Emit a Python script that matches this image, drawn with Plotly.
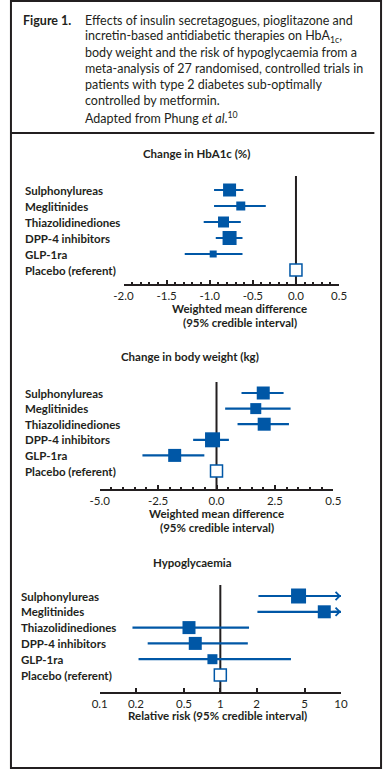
import math
import plotly.graph_objects as go

W, H = 390, 769
FONT = "Lato"
TXT = "#231f20"
BLUE = "#0057a6"

# ---------------- data ----------------
categories = ["Sulphonylureas", "Meglitinides", "Thiazolidinediones",
              "DPP-4 inhibitors", "GLP-1ra"]
referent_label = "Placebo (referent)"

# Panel 1: change in HbA1c (%)
hba1c_mean = [-0.77, -0.64, -0.84, -0.77, -0.96]
hba1c_low = [-0.95, -0.95, -1.07, -0.93, -1.29]
hba1c_high = [-0.61, -0.35, -0.64, -0.62, -0.62]
hba1c_size = [13, 9, 11, 14, 7]
hba1c_ticks = [-2.0, -1.5, -1.0, -0.5, 0.0, 0.5]
hba1c_ticktext = ["-2.0", "-1.5", "-1.0", "-0.5", "0.0", "0.5"]

# Panel 2: change in body weight (kg)
weight_mean = [2.0, 1.68, 2.04, -0.17, -1.79]
weight_low = [1.07, 0.37, 0.90, -1.00, -3.17]
weight_high = [2.87, 3.17, 3.10, 0.53, -0.52]
weight_size = [13, 11, 13, 15, 13]
weight_ticks = [-5.0, -2.5, 0.0, 2.5, 5.0]
weight_ticktext = ["-5.0", "-2.5", "0.0", "2.5", "0.5"]

# Panel 3: hypoglycaemia relative risk
hypo_mean = [4.45, 7.27, 0.55, 0.62, 0.86]
hypo_low = [2.07, 2.03, 0.187, 0.25, 0.21]
hypo_high = [10.0, 10.0, 1.73, 1.69, 3.85]
hypo_truncated = [True, True, False, False, False]
hypo_size = [15, 13, 13, 13, 10]
hypo_ticks = [0.1, 0.2, 0.5, 1, 2, 5, 10]
hypo_ticktext = ["0.1", "0.2", "0.5", "1", "2", "5", "10"]

referents = [0.0, 0.0, 1.0]

panel_titles = ["Change in HbA1c (%)", "Change in body weight (kg)", "Hypoglycaemia"]

header_lines = [
    "Effects of insulin secretagogues, pioglitazone and",
    "incretin-based antidiabetic therapies on HbA<sub>1c</sub>,",
    "body weight and the risk of hypoglycaemia from a",
    "meta-analysis of 27 randomised, controlled trials in",
    "patients with type 2 diabetes sub-optimally",
    "controlled by metformin.",
    "Adapted from Phung <i>et al</i>.<sup>10</sup>",
]

# ---------------- helpers ----------------
def px(x):
    return x / W

def py(y):
    return 1 - y / H

n = len(categories)
rows = [n + 1 - i for i in range(n)]  # 6..2
ref_row = 1

fig = go.Figure()

panels = [
    dict(mean=hba1c_mean, low=hba1c_low, high=hba1c_high, size=hba1c_size,
         xd=(119, 345), yd=(176, 284), yr=(0.125, 6.875), xr=[-2.0, 0.5],
         ticks=hba1c_ticks, ticktext=hba1c_ticktext, minor=0.1, log=False,
         labx=14, title_x=196, title_y=153,
         xtitle=["Weighted mean difference", "(95% credible interval)"],
         xtitle_x=241, xtitle_y=[308, 322]),
    dict(mean=weight_mean, low=weight_low, high=weight_high, size=weight_size,
         xd=(94, 339), yd=(382, 489), yr=(-0.154, 6.705), xr=[-5.0, 5.0],
         ticks=weight_ticks, ticktext=weight_ticktext, minor=0.5, log=False,
         labx=14, title_x=189, title_y=356,
         xtitle=["Weighted mean difference", "(95% credible interval)"],
         xtitle_x=217, xtitle_y=[513, 527]),
    dict(mean=hypo_mean, low=hypo_low, high=hypo_high, size=hypo_size,
         xd=(94, 347), yd=(585, 692), yr=(-0.076, 6.696), xr=[-1, 1],
         ticks=hypo_ticks, ticktext=hypo_ticktext, minor=None, log=True,
         labx=9, title_x=191, title_y=562,
         xtitle=["Relative risk (95% credible interval)"],
         xtitle_x=218, xtitle_y=[715]),
]

annotations = []
shapes = []
LABEL_FONT = dict(family=FONT, size=11.5, color=TXT, weight="bold")

for k, p in enumerate(panels):
    xa = "x" if k == 0 else f"x{k+1}"
    ya = "y" if k == 0 else f"y{k+1}"
    xkey = "xaxis" if k == 0 else f"xaxis{k+1}"
    ykey = "yaxis" if k == 0 else f"yaxis{k+1}"

    plus = [h - m for h, m in zip(p["high"], p["mean"])]
    minus = [m - l for m, l in zip(p["mean"], p["low"])]

    fig.add_trace(go.Scatter(
        x=p["mean"], y=rows, xaxis=xa, yaxis=ya, mode="markers",
        marker=dict(symbol="square", size=p["size"], color=BLUE, opacity=1,
                    line=dict(width=0)),
        error_x=dict(type="data", symmetric=False, array=plus, arrayminus=minus,
                     color=BLUE, thickness=2.2, width=0),
        showlegend=False, hoverinfo="skip", cliponaxis=False, opacity=1,
    ))
    fig.add_trace(go.Scatter(
        x=[referents[k]], y=[ref_row], xaxis=xa, yaxis=ya, mode="markers",
        marker=dict(symbol="square", size=12, color="white", opacity=1,
                    line=dict(width=1.5, color=BLUE)),
        showlegend=False, hoverinfo="skip", cliponaxis=False,
    ))

    axis = dict(
        domain=[px(p["xd"][0]), px(p["xd"][1])], anchor=ya,
        range=p["xr"], tickmode="array", tickvals=p["ticks"], ticktext=p["ticktext"],
        ticks="inside", ticklen=4, tickwidth=1.5, tickcolor=TXT,
        showline=True, linewidth=2, linecolor=TXT, showgrid=False, zeroline=False,
        tickfont=dict(family=FONT, size=11.5, color=TXT), fixedrange=True,
    )
    if p["log"]:
        axis["type"] = "log"
    if p["minor"]:
        axis["minor"] = dict(ticks="inside", ticklen=2.5, tickwidth=1.5, tickcolor=TXT,
                             dtick=p["minor"], tick0=0, showgrid=False)
    fig.layout[xkey] = axis
    fig.layout[ykey] = dict(domain=[py(p["yd"][1]), py(p["yd"][0])], anchor=xa,
                            range=list(p["yr"]), visible=False, fixedrange=True)

    # referent vertical line
    shapes.append(dict(type="line", xref=xa, yref=f"{ya} domain", x0=referents[k],
                       x1=referents[k], y0=0, y1=1, layer="below",
                       line=dict(color=TXT, width=2)))

    # category labels
    for lab, r in zip(categories + [referent_label], rows + [ref_row]):
        annotations.append(dict(text=lab, xref="paper", yref=ya, x=px(p["labx"]), y=r,
                                xanchor="left", yanchor="middle", showarrow=False,
                                font=LABEL_FONT))
    # panel title
    annotations.append(dict(text=panel_titles[k], xref="paper", yref="paper",
                            x=px(p["title_x"]), y=py(p["title_y"]), xanchor="center",
                            yanchor="middle", showarrow=False, font=LABEL_FONT))
    # x titles
    for t, ty in zip(p["xtitle"], p["xtitle_y"]):
        annotations.append(dict(text=t, xref="paper", yref="paper",
                                x=px(p["xtitle_x"]), y=py(ty), xanchor="center",
                                yanchor="middle", showarrow=False, font=LABEL_FONT))

# truncation arrows in panel 3 (annotation x on a log axis is given as log10)
for r, hi, tr in zip(rows, hypo_high, hypo_truncated):
    if tr:
        annotations.append(dict(text="", xref="x3", yref="y3", x=math.log10(hi), y=r,
                                ax=-10, ay=0, showarrow=True, arrowhead=4, arrowsize=0.8,
                                arrowwidth=2, arrowcolor=BLUE))

# header
annotations.append(dict(text="<b>Figure 1.</b>", xref="paper", yref="paper",
                        x=px(12), y=py(20), xanchor="left", yanchor="middle",
                        showarrow=False, font=dict(family=FONT, size=12.5, color=TXT)))
for i, line in enumerate(header_lines):
    annotations.append(dict(text=line, xref="paper", yref="paper",
                            x=px(77), y=py(20 + 16.2 * i), xanchor="left", yanchor="middle",
                            showarrow=False, font=dict(family=FONT, size=12.5, color=TXT)))

# frame and separator
shapes.append(dict(type="rect", xref="paper", yref="paper", x0=px(1), x1=px(389),
                   y0=py(768), y1=py(1), line=dict(color=TXT, width=2)))
shapes.append(dict(type="line", xref="paper", yref="paper", x0=0, x1=px(382),
                   y0=py(133), y1=py(133), line=dict(color=TXT, width=2)))

fig.update_layout(
    width=W, height=H, margin=dict(l=0, r=0, t=0, b=0),
    paper_bgcolor="white", plot_bgcolor="white",
    annotations=annotations, shapes=shapes, showlegend=False,
    font=dict(family=FONT, color=TXT),
)

fig.write_html("out.html", config={"displayModeBar": False},
               post_script="document.body.style.margin='0';document.body.style.overflow='hidden';")
